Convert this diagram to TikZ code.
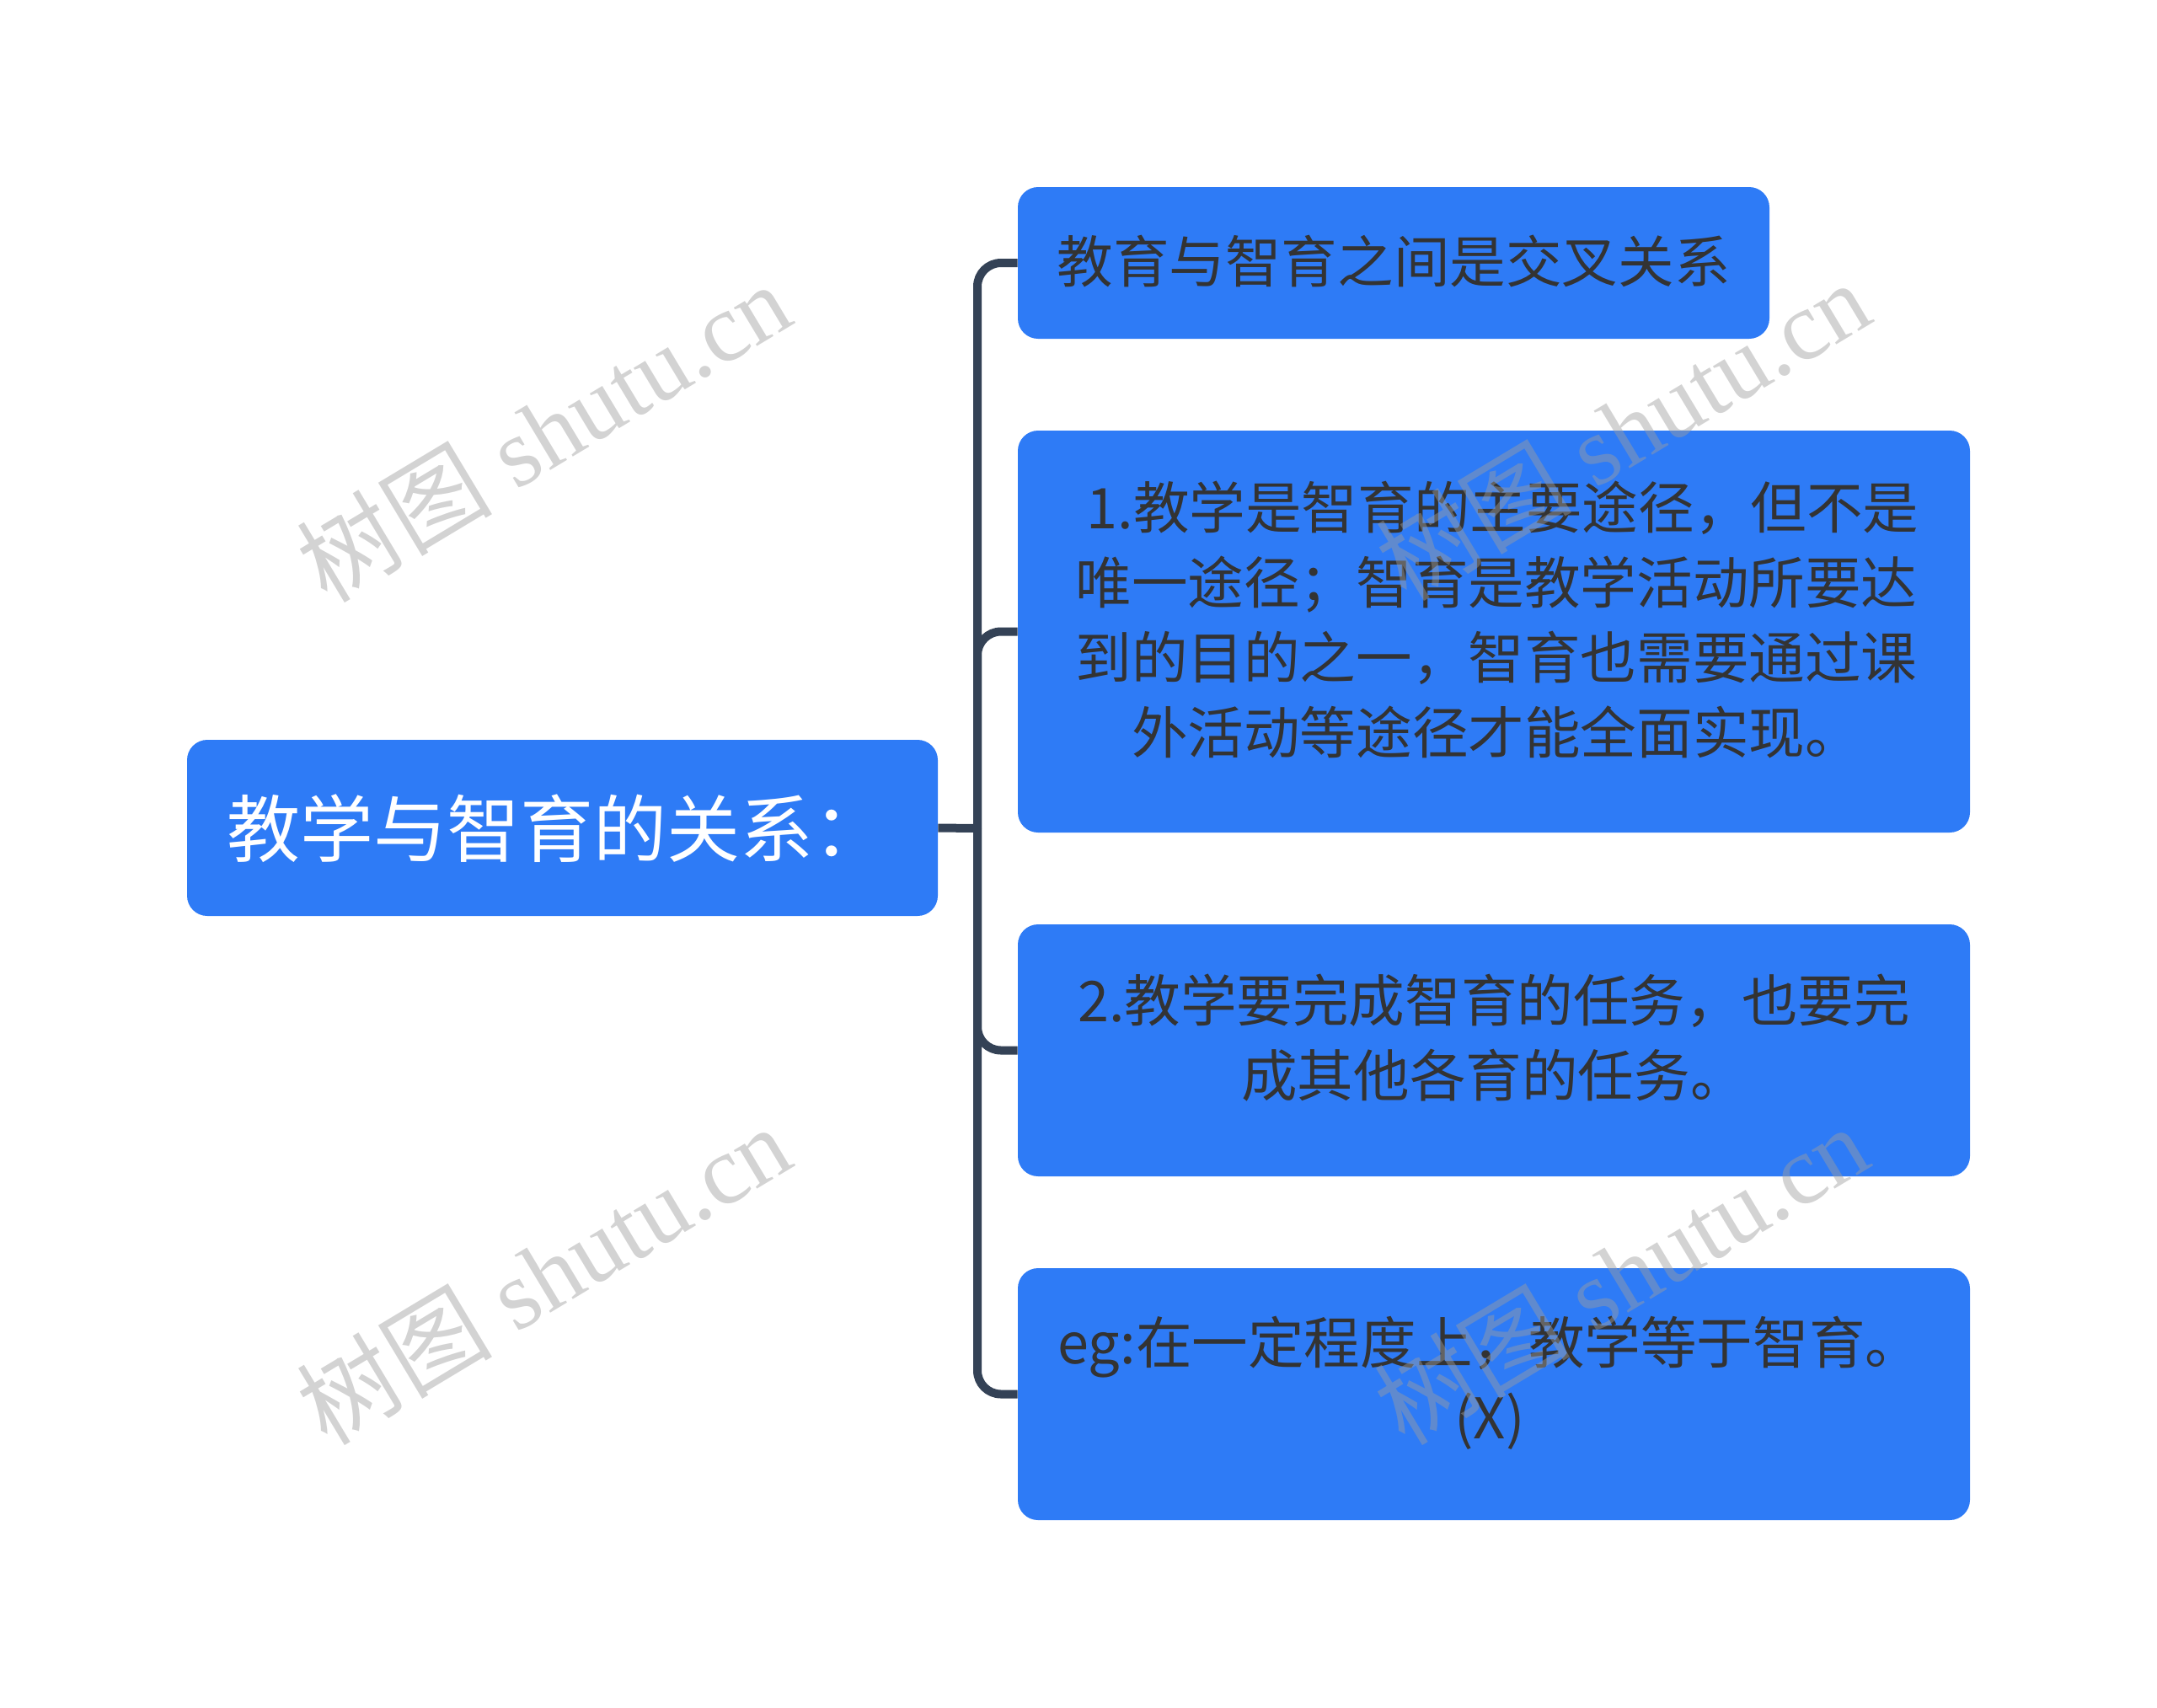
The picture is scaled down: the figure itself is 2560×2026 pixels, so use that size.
\documentclass[tikz,border=0pt]{standalone}
\usepackage{fontspec}
\setmainfont{Liberation Serif}
\newfontfamily\cjk{Noto Sans CJK SC}
\newfontfamily\wmserif{Liberation Serif}
\usetikzlibrary{calc}
\definecolor{boxblue}{HTML}{2E7BF6}
\definecolor{linecol}{HTML}{344256}
\definecolor{txtdark}{HTML}{333333}
\definecolor{wmgray}{HTML}{9E9E9E}
\begin{document}
\begin{tikzpicture}[x=0.5pt,y=-0.5pt,
 box/.style={fill=boxblue, rounded corners=12pt, inner sep=0pt, draw=none},
 conn/.style={draw=linecol, line width=5pt, rounded corners=14pt},
 roottext/.style={text=white, font=\cjk\fontsize{43.5}{50}\selectfont, inner sep=0pt},
 childtext/.style={text=txtdark, font=\cjk\fontsize{33.3}{44.5}\selectfont, align=center, inner sep=0pt},
 wm/.style={text=wmgray, opacity=0.45, rotate=31, inner sep=0pt, font=\fontsize{58}{58}\selectfont}]
\useasboundingbox (0,0) rectangle (2560,2026);
% boxes
\node[box, minimum width=445.5pt, minimum height=104.5pt] (root) at (667.5,982.5) {};
\node[box, minimum width=446pt, minimum height=90pt] (c1) at (1654,312) {};
\node[box, minimum width=565pt, minimum height=238.5pt] (c2) at (1773,749.5) {};
\node[box, minimum width=565pt, minimum height=149.5pt] (c3) at (1773,1246.5) {};
\node[box, minimum width=565pt, minimum height=149.5pt] (c4) at (1773,1654.5) {};
% texts
\node[roottext, anchor=west] (t0) at (269,983) {教学与智育的关系：};
\node[childtext] (t1) at (1654,310) {教育与智育之间是交叉关系};
\node[childtext] (t2) at (1776,735) {\ 1.教学是智育的主要途径，但不是\\唯一途径；智育是教学活动所要达\\到的目的之一，智育也需要通过课\\外活动等途径才能全面实现。};
\node[childtext] (t3) at (1773,1232) {2.教学要完成智育的任务，也要完\\成其他各育的任务。};
\node[childtext] (t4) at (1768,1641) {eg:在一定程度上，教学等于智育。\\(X)};
% connectors
\coordinate (J) at (1160,983);
\draw[conn] (root.east) -- (J);
\draw[conn] (J) |- (c1.west);
\draw[conn] (J) |- (c2.west);
\draw[conn] (J) |- (c3.west);
\draw[conn] (J) |- (c4.west);
% watermarks
\node[wm] (w1) at (645,512) {{\cjk 树图} {\wmserif shutu.cn}};
\node[wm] (w2) at (1926,510) {{\cjk 树图} {\wmserif shutu.cn}};
\node[wm] (w3) at (645,1512) {{\cjk 树图} {\wmserif shutu.cn}};
\node[wm] (w4) at (1924,1512) {{\cjk 树图} {\wmserif shutu.cn}};
\end{tikzpicture}
\end{document}
